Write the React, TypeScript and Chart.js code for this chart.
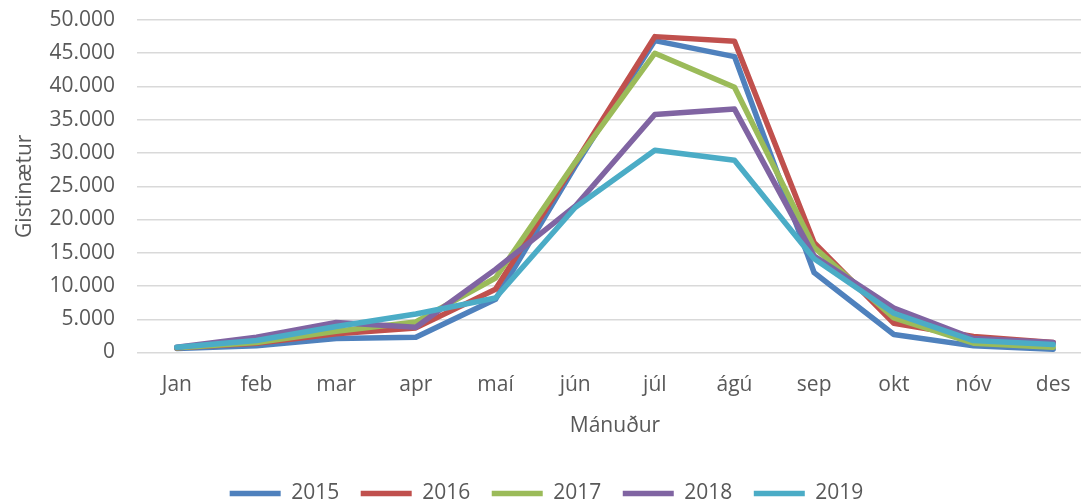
import React, { useEffect, useRef } from "react";
import { Chart, registerables } from "chart.js";

Chart.register(...registerables);

const months = ["Jan", "feb", "mar", "apr", "maí", "jún", "júl", "ágú", "sep", "okt", "nóv", "des"];
const years = ["2015", "2016", "2017", "2018", "2019"];
const colors = ["#4F81BD", "#C0504D", "#9BBB59", "#8064A2", "#4BACC6"];
const v2015 = [600, 1000, 2100, 2300, 8000, 28000, 46900, 44500, 12000, 2700, 1000, 500];
const v2016 = [700, 1400, 2800, 3700, 9500, 28500, 47500, 46800, 16500, 4400, 2400, 1500];
const v2017 = [700, 1500, 3200, 4600, 11200, 28600, 45000, 39900, 15800, 5200, 1400, 800];
const v2018 = [800, 2300, 4500, 3800, 12500, 22000, 35800, 36600, 14500, 6700, 2100, 1500];
const v2019 = [800, 1800, 3900, 5800, 8200, 21800, 30400, 28900, 14100, 5900, 1800, 1200];
const seriesValues = [v2015, v2016, v2017, v2018, v2019];
const yMin = 0;
const yMax = 50000;
const yStep = 5000;
const xTitle = "Mánuður";
const yTitle = "Gistinætur";

const FONT = "'Open Sans', 'Noto Sans', sans-serif";
const FS = 21;
const TEXT = "#595959";

function fmt(n: number): string {
  return String(Math.round(n)).replace(/\B(?=(\d{3})+(?!\d))/g, ".");
}

export default function App() {
  const ref = useRef<HTMLCanvasElement | null>(null);
  useEffect(() => {
    if (!ref.current) return;
    const chart = new Chart(ref.current, {
      type: "line",
      data: {
        labels: months,
        datasets: years.map((y, i) => ({
          label: y,
          data: seriesValues[i],
          borderColor: colors[i],
          backgroundColor: colors[i],
          borderWidth: 5.5,
          borderCapStyle: "round" as const,
          borderJoinStyle: "round" as const,
          pointRadius: 0,
          pointHoverRadius: 0,
          tension: 0,
          fill: false,
          order: years.length - i,
        })),
      },
      options: {
        animation: false,
        responsive: false,
        maintainAspectRatio: false,
        layout: { padding: { top: 20, left: 0, right: 17, bottom: 0 } },
        plugins: {
          tooltip: { enabled: false },
          legend: {
            position: "bottom",
            labels: {
              usePointStyle: true,
              pointStyle: "line",
              pointStyleWidth: 51,
              boxHeight: 5,
              padding: 21.5,
              color: TEXT,
              font: { family: FONT, size: FS },
              sort: (a: any, b: any) => a.datasetIndex - b.datasetIndex,
            },
          },
        },
        scales: {
          x: {
            offset: true,
            grid: { display: false },
            border: { display: false },
            ticks: { color: TEXT, font: { family: FONT, size: FS }, padding: 12, maxRotation: 0 },
            title: {
              display: true,
              text: xTitle,
              color: TEXT,
              font: { family: FONT, size: FS },
              padding: { top: 0, bottom: 23 },
            },
            afterFit: (s: any) => {
              s.height = 109;
            },
          },
          y: {
            min: yMin,
            max: yMax,
            grid: {
              color: "#d9d9d9",
              lineWidth: 1.5,
              drawTicks: true,
              tickLength: 22,
              tickColor: "rgba(0,0,0,0)",
            },
            border: { display: false },
            ticks: {
              stepSize: yStep,
              color: TEXT,
              font: { family: FONT, size: FS },
              padding: 0,
              callback: (v: any) => fmt(Number(v)),
            },
            title: {
              display: true,
              text: yTitle,
              color: TEXT,
              font: { family: FONT, size: FS },
              padding: { top: 12, bottom: 0 },
            },
            afterFit: (s: any) => {
              s.width = 137;
            },
          },
        },
      },
    });
    return () => chart.destroy();
  }, []);
  return (
    <div style={{ position: "absolute", left: 0, top: 0, width: 1081, height: 502, overflow: "hidden", background: "#fff" }}>
      <canvas ref={ref} width={1110} height={514} style={{ width: 1110, height: 514, display: "block" }} />
    </div>
  );
}
